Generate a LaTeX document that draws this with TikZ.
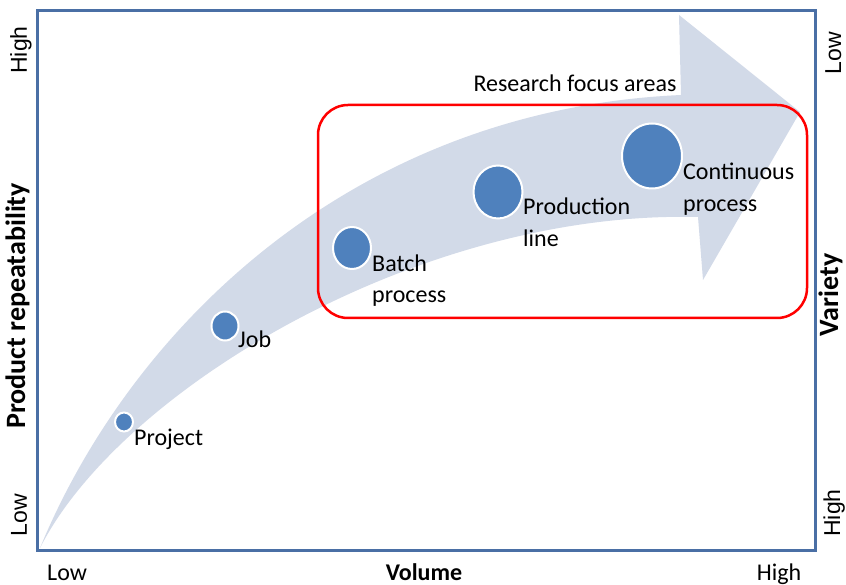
\documentclass[tikz,border=0pt]{standalone}
\usepackage{fontspec}
\setmainfont{Carlito}
\newfontfamily\arialfont{Liberation Sans}
\usetikzlibrary{shapes.geometric}
\definecolor{frameblue}{HTML}{4A6FA5}
\definecolor{bandblue}{HTML}{D2DAE8}
\definecolor{dotblue}{HTML}{4F81BD}
\begin{document}
\begin{tikzpicture}[x=1pt,y=-1pt,
  dot/.style={ellipse, fill=dotblue, draw=white, line width=2pt, inner sep=0pt},
  lbl/.style={font=\fontsize{24}{32}\selectfont, inner sep=0pt, align=left, anchor=base west},
  axlbl/.style={font=\fontsize{24}{28}\selectfont, inner sep=0pt, anchor=base},
  sidelbl/.style={font=\arialfont\fontsize{23}{26}\selectfont, inner sep=0pt, anchor=base, rotate=90},
  sidetitle/.style={font=\bfseries\fontsize{28}{32}\selectfont, inner sep=0pt, anchor=base, rotate=90}]
\useasboundingbox (0,0) rectangle (846,585);
\fill[white] (0,0) rectangle (846,585);
% curved arrow band
\fill[bandblue] (40,548) .. controls (130,330) and (350,110) .. (681,95)
  -- (679,15) -- (800,112) -- (703,280) -- (698,217)
  .. controls (420,210) and (120,390) .. (40,548) -- cycle;
% frame
\draw[frameblue, line width=3pt] (37,11) rectangle (815,550);
% research focus box
\draw[red, line width=2.5pt, rounded corners=30pt] (318,105) rectangle (807,318);
\node[lbl, anchor=base] (rfa) at (575,92) {Research focus areas};
% dots
\node[dot, minimum width=18pt, minimum height=19pt] (project) at (124,422) {};
\node[dot, minimum width=27pt, minimum height=29pt] (job) at (225,326) {};
\node[dot, minimum width=38pt, minimum height=42pt] (batch) at (352,248) {};
\node[dot, minimum width=49pt, minimum height=53pt] (prod) at (498,192) {};
\node[dot, minimum width=60pt, minimum height=65pt] (cont) at (652,156) {};
% labels (base = baseline of last line)
\node[lbl] (lproject) at (134,445) {Project};
\node[lbl] (ljob) at (238,348) {Job};
\node[lbl] (lbatch) at (372,303) {Batch\\process};
\node[lbl] (lprod) at (523,247) {Production\\line};
\node[lbl] (lcont) at (683,212) {Continuous\\process};
% axis labels
\node[axlbl, anchor=base west] (xlow) at (47,580) {Low};
\node[axlbl, font=\bfseries\fontsize{24}{28}\selectfont] (xtitle) at (424,580) {Volume};
\node[axlbl] (xhigh) at (779,580) {High};
\node[sidelbl] (ylhigh) at (27,50) {High};
\node[sidelbl] (yllow) at (27,515) {Low};
\node[sidetitle] (yltitle) at (25,306) {Product repeatability};
\node[sidelbl] (yrlow) at (841,53) {Low};
\node[sidetitle] (yrtitle) at (838,295) {Variety};
\node[sidelbl] (yrhigh) at (840,513) {High};
\end{tikzpicture}
\end{document}
